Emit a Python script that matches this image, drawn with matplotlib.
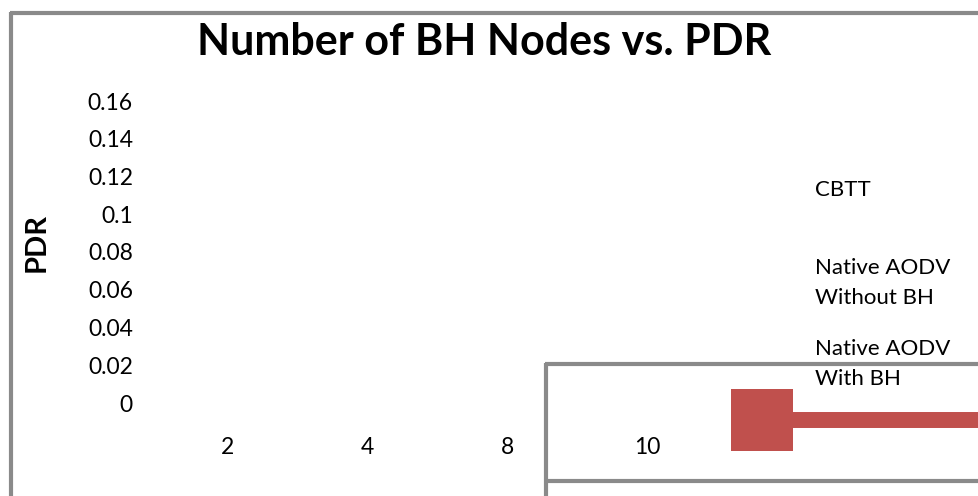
import matplotlib
matplotlib.use("Agg")
import matplotlib.pyplot as plt
from matplotlib.lines import Line2D

W, H = 979, 496

title = "Number of BH Nodes vs. PDR"
categories = ["2", "4", "8", "10"]
y_ticks = [0, 0.02, 0.04, 0.06, 0.08, 0.1, 0.12, 0.14, 0.16]
y_tick_labels = ["0", "0.02", "0.04", "0.06", "0.08", "0.1", "0.12", "0.14", "0.16"]
series_names = ["CBTT", "Native AODV\nWithout BH", "Native AODV\nWith BH"]
series_colors = ["#4F81BD", "#9BBB59", "#C0504D"]

plt.rcParams['font.family'] = ['Lato', 'DejaVu Sans']

fig = plt.figure(figsize=(W / 100, H / 100), dpi=100)
fig.patch.set_facecolor("white")

def fx(px):
    return px / W

def fy(py):
    return 1 - py / H

# plot area: y from 0 (px 405) to 0.16 (px 103), categories spaced 140 px
ax = fig.add_axes([fx(157), fy(405), fx(560), (405 - 103) / H])
ax.set_ylim(0, 0.16)
ax.set_xlim(-0.5, len(categories) - 0.5)
for s in ax.spines.values():
    s.set_visible(False)
ax.set_xticks([])
ax.set_yticks([])
ax.patch.set_alpha(0)

for v, lab in zip(y_ticks, y_tick_labels):
    ax.text(-0.5 - 24 / 140, v, lab, ha="right", va="center", fontsize=16.5,
            clip_on=False)

for i, c in enumerate(categories):
    ax.text(i, -0.16 * 42 / 302, c, ha="center", va="center",
            fontsize=16.5, clip_on=False)

fig.text(fx(484), fy(42), title, ha="center", va="center",
         fontsize=31, fontweight="bold")
fig.text(fx(37), fy(243), "PDR", ha="center", va="center", rotation=90,
         fontsize=21, fontweight="bold")

# frame lines (gray)
gray = "#8a8a8a"
frame = [
    ([fx(11), fx(11)], [fy(12), fy(H)]),
    ([fx(9.5), 1], [fy(13), fy(13)]),
    ([fx(546), fx(546)], [fy(363), fy(H)]),
    ([fx(544.5), 1], [fy(364), fy(364)]),
    ([fx(546), 1], [fy(481), fy(481)]),
]
for xs, ys in frame:
    fig.add_artist(Line2D(xs, ys, color=gray, lw=3, solid_capstyle="butt"))

# legend entries
legend_y = [190, 283, 364]
for name, yy in zip(series_names, legend_y):
    fig.text(fx(815), fy(yy), name, ha="left", va="center", fontsize=16,
             linespacing=1.6)

# oversized legend key of the last series
fig.add_artist(Line2D([fx(793), 1], [fy(420), fy(420)], color=series_colors[2],
                      lw=11.5, solid_capstyle="butt"))
fig.add_artist(Line2D([fx(762)], [fy(420)], color=series_colors[2], marker="s",
                      markersize=45, markeredgewidth=0, linestyle="none"))

fig.savefig("out.png", dpi=100)
